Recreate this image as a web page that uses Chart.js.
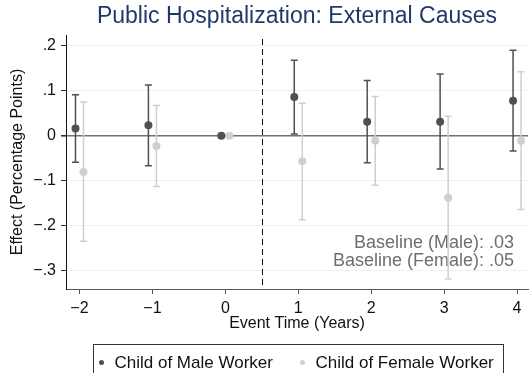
<!DOCTYPE html>
<html>
<head>
<meta charset="utf-8">
<script src="https://cdn.jsdelivr.net/npm/chart.js@4"></script>
<style>
  body { margin: 0; background: #fff; }
  canvas { display: block; }
</style>
</head>
<body>
<canvas id="chart" width="532" height="373"></canvas>
<script>
// event study estimates, in percentage points, with 95% CI bounds
const eventTime = [-2, -1, 0, 1, 2, 3, 4];
const maleEst  = [0.016, 0.023, 0, 0.086, 0.031, 0.031, 0.078];
const maleLo   = [-0.059, -0.067, 0, 0.004, -0.060, -0.074, -0.034];
const maleHi   = [0.091, 0.113, 0, 0.168, 0.123, 0.137, 0.190];
const femaleEst = [-0.081, -0.023, 0, -0.057, -0.011, -0.138, -0.011];
const femaleLo  = [-0.235, -0.113, 0, -0.187, -0.110, -0.319, -0.164];
const femaleHi  = [0.075, 0.067, 0, 0.072, 0.087, 0.043, 0.142];
const yTicks = [-0.3, -0.2, -0.1, 0, 0.1, 0.2];
const xTicks = [-2, -1, 0, 1, 2, 3, 4];
const baselineNotes = ['Baseline (Male): .03', 'Baseline (Female): .05'];

const FONT = "'Liberation Sans', Arial, Helvetica, sans-serif";
Chart.defaults.font.family = FONT;

function minus(s) { return s.replace('-', '\u2212'); }

// stata style labels: .2, 0, -.3
function fmtY(v) {
  if (Math.abs(v) < 1e-9) return '0';
  var s = Math.abs(v).toFixed(1).replace(/^0/, '');
  return (v < 0 ? '\u2212' : '') + s;
}

function points(est, shift) {
  return eventTime.map(function (t, i) { return { x: t + shift, y: est[i] }; });
}

// whiskers with caps, drawn under the points
const errorBars = {
  id: 'errorBars',
  beforeDatasetsDraw(chart) {
    const ctx = chart.ctx, xs = chart.scales.x, ys = chart.scales.y;
    const area = chart.chartArea;
    // dashed line at treatment
    ctx.save();
    ctx.strokeStyle = '#111';
    ctx.lineWidth = 1;
    ctx.setLineDash([6, 4]);
    const px = Math.round(xs.getPixelForValue(0.5)) + 0.5;
    ctx.beginPath();
    ctx.moveTo(px, area.top + 4);
    ctx.lineTo(px, area.bottom);
    ctx.stroke();
    ctx.restore();

    // baseline notes
    ctx.save();
    ctx.font = '18px ' + FONT;
    ctx.fillStyle = '#6e6e6e';
    ctx.textAlign = 'right';
    ctx.textBaseline = 'middle';
    ctx.fillText(baselineNotes[0], area.right - 14, 243.5);
    ctx.fillText(baselineNotes[1], area.right - 14, 261);
    ctx.restore();

    chart.data.datasets.forEach(function (ds) {
      ctx.save();
      ctx.strokeStyle = ds.borderColor;
      ctx.lineWidth = 1.5;
      ds.data.forEach(function (p, i) {
        const lo = ds.errLo[i], hi = ds.errHi[i];
        if (lo === hi) return;
        const x = xs.getPixelForValue(p.x);
        const y1 = ys.getPixelForValue(lo), y2 = ys.getPixelForValue(hi);
        ctx.beginPath();
        ctx.moveTo(x, y1); ctx.lineTo(x, y2);
        ctx.moveTo(x - 3.5, y1); ctx.lineTo(x + 3.5, y1);
        ctx.moveTo(x - 3.5, y2); ctx.lineTo(x + 3.5, y2);
        ctx.stroke();
      });
      ctx.restore();
    });
  }
};

// boxed legend under the axis title
const boxLegend = {
  id: 'boxLegend',
  afterDraw(chart) {
    const ctx = chart.ctx;
    const area = chart.chartArea;
    const cx = (area.left + area.right) / 2;
    const left = Math.round(cx - 204) + 0.5;
    ctx.save();
    ctx.strokeStyle = '#333';
    ctx.lineWidth = 1;
    ctx.strokeRect(left, 344.5, 410, 40);
    ctx.font = '17px ' + FONT;
    ctx.textBaseline = 'middle';
    ctx.fillStyle = '#111';
    const offs = [8, 209];
    chart.data.datasets.forEach(function (ds, i) {
      const x = left + offs[i];
      ctx.beginPath();
      ctx.fillStyle = ds.backgroundColor;
      ctx.arc(x, 362.5, 2.5, 0, Math.PI * 2);
      ctx.fill();
      ctx.fillStyle = '#111';
      ctx.fillText(ds.label, x + 13, 363);
    });
    ctx.restore();
  }
};

new Chart(document.getElementById('chart'), {
  type: 'scatter',
  data: {
    datasets: [{
      label: 'Child of Male Worker',
      data: points(maleEst, -0.055),
      errLo: maleLo, errHi: maleHi,
      backgroundColor: '#505050',
      borderColor: '#505050',
      pointRadius: 4,
      pointBorderWidth: 0
    }, {
      label: 'Child of Female Worker',
      data: points(femaleEst, 0.055),
      errLo: femaleLo, errHi: femaleHi,
      backgroundColor: '#cfcfcf',
      borderColor: '#cfcfcf',
      pointRadius: 4,
      pointBorderWidth: 0
    }]
  },
  options: {
    responsive: false,
    devicePixelRatio: 1,
    animation: false,
    layout: { padding: { top: 0, left: 0, right: 0, bottom: 40 } },
    plugins: {
      legend: { display: false },
      tooltip: { enabled: false },
      title: {
        display: true,
        fullSize: false,
        text: 'Public Hospitalization: External Causes',
        color: '#1f3a68',
        font: { size: 23, weight: 'normal' },
        padding: { top: 3, bottom: 4.4 }
      }
    },
    scales: {
      x: {
        type: 'linear',
        min: -2.185,
        max: 4.15,
        afterBuildTicks: function (axis) { axis.ticks = xTicks.map(function (v) { return { value: v }; }); },
        afterFit: function (axis) { axis.height = 44; },
        border: { color: '#555', width: 1 },
        grid: { drawOnChartArea: false, drawTicks: true, tickLength: 5, tickColor: '#555' },
        ticks: {
          color: '#111',
          font: { size: 16 },
          padding: 5,
          maxRotation: 0,
          callback: function (v) { return minus(String(v)); }
        },
        title: {
          display: true,
          text: 'Event Time (Years)',
          color: '#111',
          font: { size: 16 },
          padding: { top: 0, bottom: 0 }
        }
      },
      y: {
        min: -0.341,
        max: 0.224,
        afterBuildTicks: function (axis) { axis.ticks = yTicks.map(function (v) { return { value: v }; }); },
        afterFit: function (axis) { axis.width = 66; },
        border: { color: '#111', width: 1 },
        grid: {
          drawTicks: true,
          tickLength: 5,
          tickColor: '#333',
          color: function (c) { return c.tick && Math.abs(c.tick.value) < 1e-9 ? '#707070' : '#eaf2f3'; },
          lineWidth: function (c) { return c.tick && Math.abs(c.tick.value) < 1e-9 ? 1.6 : 1; }
        },
        ticks: {
          color: '#111',
          font: { size: 16 },
          padding: 5,
          callback: fmtY
        },
        title: {
          display: true,
          text: 'Effect (Percentage Points)',
          color: '#111',
          font: { size: 16 },
          padding: { top: 8, bottom: 0 }
        }
      }
    }
  },
  plugins: [errorBars, boxLegend]
});
</script>
</body>
</html>
